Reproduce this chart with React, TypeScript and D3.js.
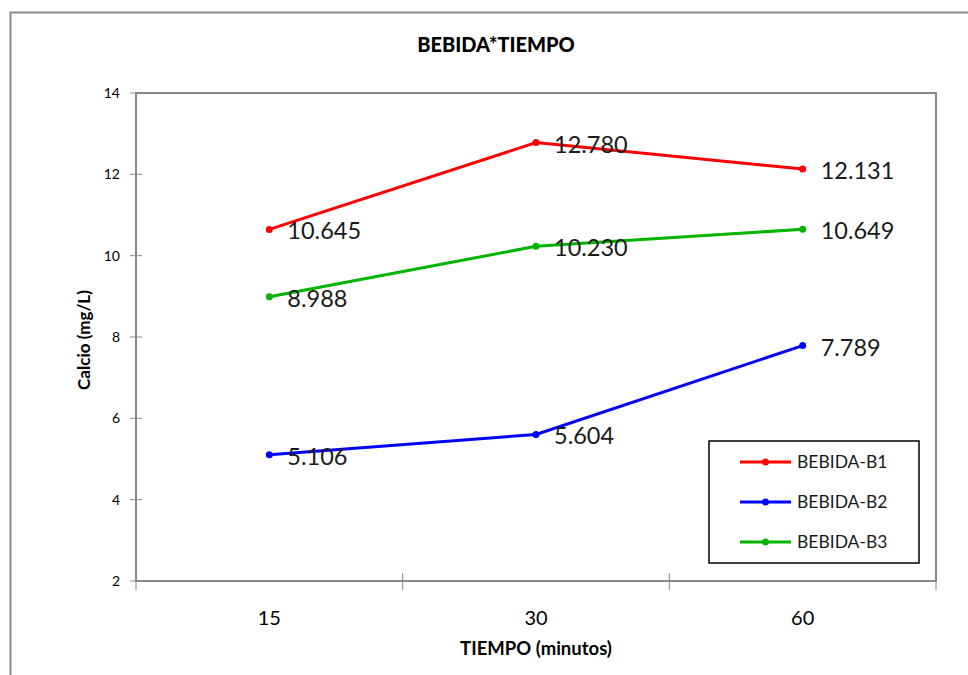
import React from "react";
import * as d3 from "d3";

// Tiempos de medición (minutos) y medias de calcio por bebida
const tiempos = ["15", "30", "60"];
const series = ["BEBIDA-B1", "BEBIDA-B2", "BEBIDA-B3"];
const valoresB1 = [10.645, 12.78, 12.131];
const valoresB2 = [5.106, 5.604, 7.789];
const valoresB3 = [8.988, 10.23, 10.649];
const colores = ["#ff0000", "#0000ff", "#00b400"];
const yTicks = [2, 4, 6, 8, 10, 12, 14];

const W = 968;
const H = 675;
const plot = { left: 136, right: 936, top: 93, bottom: 581 };
const FONT = "Lato, 'Open Sans', sans-serif";
const AXIS = "#898989";

export default function App() {
  const x = d3
    .scaleBand<string>()
    .domain(tiempos)
    .range([plot.left, plot.right])
    .paddingInner(0)
    .paddingOuter(0);
  const y = d3.scaleLinear().domain([2, 14]).range([plot.bottom, plot.top]);
  const cx = (t: string) => (x(t) as number) + x.bandwidth() / 2;

  const datos = [valoresB1, valoresB2, valoresB3];
  const line = d3
    .line<number>()
    .x((_, i) => cx(tiempos[i]))
    .y((v) => y(v));

  const fmt = d3.format(".3f");
  const bounds = [...tiempos.map((t) => x(t) as number), plot.right];

  const legend = { x: 709, y: 441, w: 210, h: 122 };

  return (
    <svg
      width={W}
      height={H}
      style={{ position: "absolute", left: 0, top: 0, display: "block" }}
    >
      <rect width={W} height={H} fill="#ffffff" />
      {/* marco del gráfico */}
      <rect
        x={10.5}
        y={12.5}
        width={W + 20}
        height={H + 20}
        fill="none"
        stroke="#8c8c8c"
        strokeWidth={2}
      />

      <text
        x={496}
        y={52}
        textAnchor="middle"
        fontFamily={FONT}
        fontWeight="900"
        fontSize={20}
        fill="#000"
      >
        BEBIDA*TIEMPO
      </text>

      {/* área de trazado */}
      <rect
        x={plot.left}
        y={plot.top}
        width={plot.right - plot.left}
        height={plot.bottom - plot.top}
        fill="none"
        stroke={AXIS}
        strokeWidth={2}
      />

      {/* eje Y */}
      {yTicks.map((t) => (
        <g key={t}>
          <line
            x1={plot.left - 6}
            x2={plot.left + 6}
            y1={y(t)}
            y2={y(t)}
            stroke={AXIS}
            strokeWidth={1}
          />
          <text
            x={plot.left - 16}
            y={y(t) + 5}
            textAnchor="end"
            fontFamily={FONT}
            fontSize={14}
            fill="#000"
          >
            {t}
          </text>
        </g>
      ))}
      <text
        transform={`translate(90,${(plot.top + plot.bottom) / 2 + 3}) rotate(-90)`}
        textAnchor="middle"
        fontFamily={FONT}
        fontWeight="bold"
        fontSize={17}
        fill="#000"
      >
        Calcio (mg/L)
      </text>

      {/* eje X */}
      {bounds.map((b, i) => (
        <line
          key={i}
          x1={b}
          x2={b}
          y1={i === 0 || i === bounds.length - 1 ? plot.bottom : plot.bottom - 8}
          y2={plot.bottom + 9}
          stroke={AXIS}
          strokeWidth={1}
        />
      ))}
      {tiempos.map((t) => (
        <text
          key={t}
          x={cx(t)}
          y={625}
          textAnchor="middle"
          fontFamily={FONT}
          fontSize={20}
          fill="#000"
        >
          {t}
        </text>
      ))}
      <text
        x={(plot.left + plot.right) / 2}
        y={655}
        textAnchor="middle"
        fontFamily={FONT}
        fontWeight="bold"
        fontSize={18.5}
        fill="#000"
      >
        TIEMPO (minutos)
      </text>

      {/* series */}
      {datos.map((vals, s) => (
        <g key={series[s]}>
          <path
            d={line(vals) as string}
            fill="none"
            stroke={colores[s]}
            strokeWidth={3}
          />
          {vals.map((v, i) => (
            <circle key={i} cx={cx(tiempos[i])} cy={y(v)} r={3.5} fill={colores[s]} />
          ))}
          {vals.map((v, i) => (
            <text
              key={"l" + i}
              x={cx(tiempos[i]) + 18}
              y={y(v) + 10}
              fontFamily={FONT}
              fontSize={23.5}
              fill="#1a1a1a"
            >
              {fmt(v)}
            </text>
          ))}
        </g>
      ))}

      {/* leyenda */}
      <rect
        x={legend.x}
        y={legend.y}
        width={legend.w}
        height={legend.h}
        fill="#ffffff"
        stroke="#000"
        strokeWidth={1.5}
      />
      {series.map((name, s) => {
        const ly = legend.y + 21 + s * 40;
        return (
          <g key={name}>
            <line
              x1={740}
              x2={791}
              y1={ly}
              y2={ly}
              stroke={colores[s]}
              strokeWidth={3}
            />
            <circle cx={765.5} cy={ly} r={3.5} fill={colores[s]} />
            <text
              x={797}
              y={ly + 6}
              fontFamily={FONT}
              fontSize={17.5}
              fill="#1a1a1a"
            >
              {name}
            </text>
          </g>
        );
      })}
    </svg>
  );
}
